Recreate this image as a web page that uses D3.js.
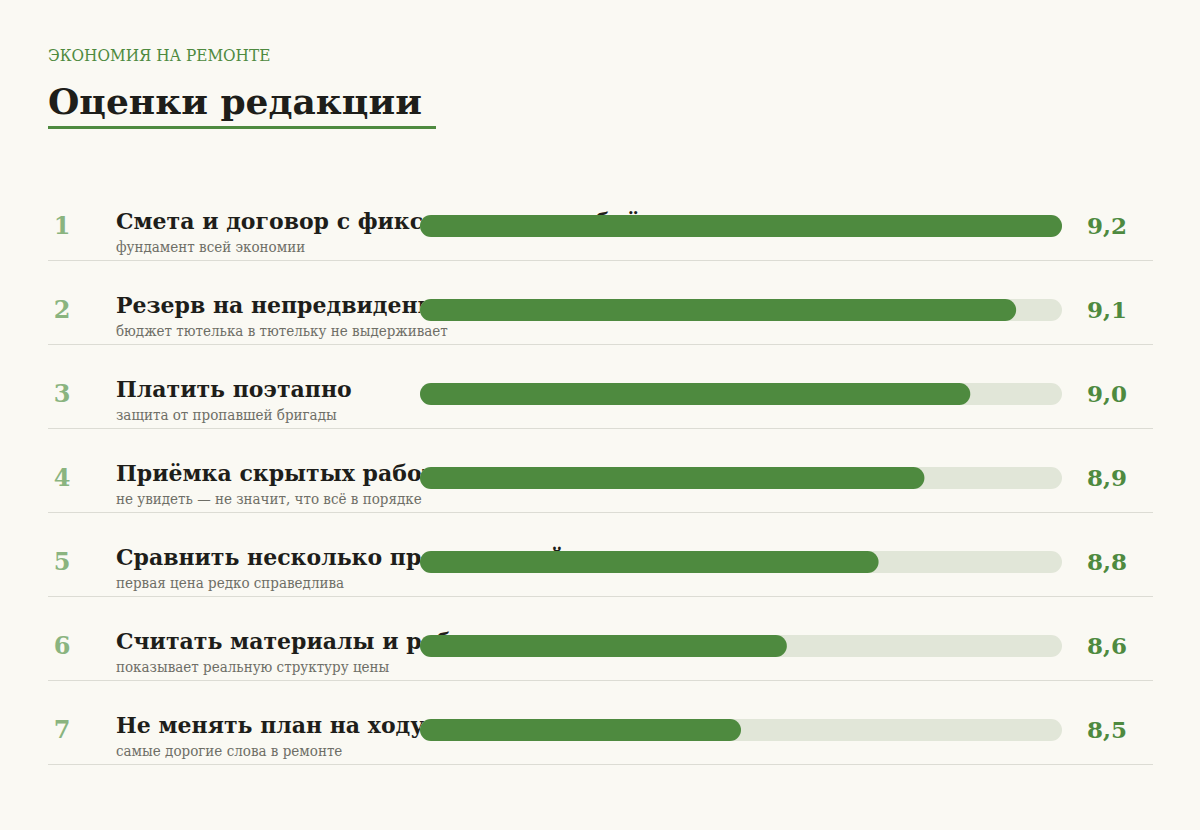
<!DOCTYPE html><html><head><meta charset="utf-8">
<script src="https://cdn.jsdelivr.net/npm/d3@7"></script>
<style>body{margin:0;background:#faf9f3}</style></head><body>
<svg id="c" width="1200" height="830"></svg>
<script>
const ranks=["1","2","3","4","5","6","7"];
const titles=["Смета и договор с фиксированным объёмом","Резерв на непредвиденные расходы","Платить поэтапно","Приёмка скрытых работ","Сравнить несколько предложений","Считать материалы и работы отдельно","Не менять план на ходу"];
const notes=["фундамент всей экономии","бюджет тютелька в тютельку не выдерживает","защита от пропавшей бригады","не увидеть — не значит, что всё в порядке","первая цена редко справедлива","показывает реальную структуру цены","самые дорогие слова в ремонте"];
const scores=[9.2,9.1,9.0,8.9,8.8,8.6,8.5];
const svg=d3.select("#c");
const serif="'DejaVu Serif',serif";
const cond="'DejaVu Serif Condensed','DejaVu Serif',serif";
const green="#4e8a3f";
svg.append("rect").attr("width",1200).attr("height",830).attr("fill","#faf9f3");
svg.append("text").attr("x",48).attr("y",61).text("ЭКОНОМИЯ НА РЕМОНТЕ").attr("font-family",cond).attr("font-size",17).attr("fill",green);
svg.append("text").attr("x",48).attr("y",114).text("Оценки редакции").attr("font-family",serif).attr("font-weight","bold").attr("font-size",36).attr("fill","#1e1e1a");
svg.append("rect").attr("x",48).attr("y",126).attr("width",388).attr("height",3).attr("fill",green);
const x=d3.scaleLinear().domain([7.8,9.2]).range([420,1062]);
const y=d3.scaleBand().domain(ranks).range([184,772]);
const g=svg.selectAll("g.row").data(scores).join("g").attr("transform",(d,i)=>`translate(0,${y(ranks[i])})`);
g.append("text").attr("x",62).attr("y",50).attr("text-anchor","middle").text((d,i)=>ranks[i]).attr("font-family",serif).attr("font-weight","bold").attr("font-size",24).attr("fill","#8ab47f");
g.append("text").attr("x",116).attr("y",45).text((d,i)=>titles[i]).attr("font-family",serif).attr("font-weight","bold").attr("font-size",22).attr("fill","#1e1e1a");
g.append("text").attr("x",116).attr("y",68).text((d,i)=>notes[i]).attr("font-family",cond).attr("font-size",15).attr("fill","#6e6e66");
g.append("rect").attr("x",x(7.8)).attr("y",31).attr("width",x(9.2)-x(7.8)).attr("height",22).attr("rx",11).attr("fill","#e1e6d8");
g.append("rect").attr("x",x(7.8)).attr("y",31).attr("width",d=>x(d)-x(7.8)).attr("height",22).attr("rx",11).attr("fill",green);
g.append("text").attr("x",1087).attr("y",50).text(d=>d3.format(".1f")(d).replace(".",",")).attr("font-family",serif).attr("font-weight","bold").attr("font-size",23).attr("fill",green);
g.append("line").attr("x1",48).attr("x2",1153).attr("y1",76.5).attr("y2",76.5).attr("stroke","#dcdcd4");
</script></body></html>
